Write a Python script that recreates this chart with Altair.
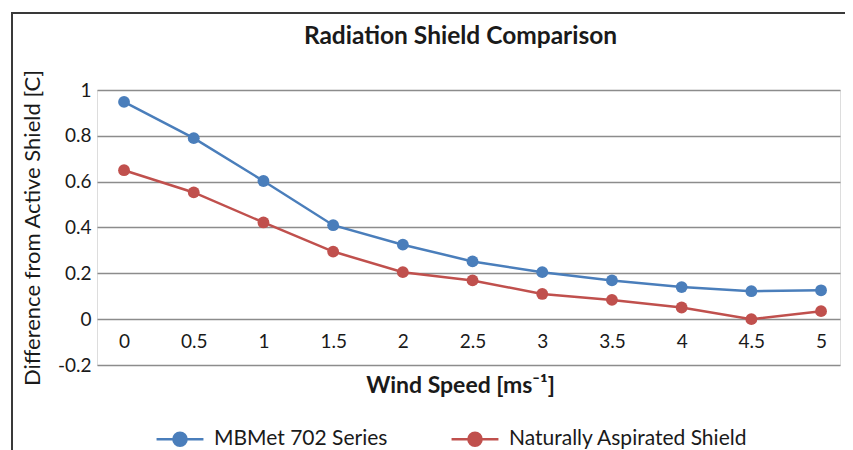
import altair as alt
import pandas as pd

wind = [0, 0.5, 1, 1.5, 2, 2.5, 3, 3.5, 4, 4.5, 5]
mbmet = [0.948, 0.79, 0.603, 0.41, 0.325, 0.252, 0.205, 0.169, 0.14, 0.122, 0.126]
natural = [0.65, 0.553, 0.422, 0.295, 0.205, 0.169, 0.11, 0.084, 0.051, 0.0, 0.035]
series_names = ["MBMet 702 Series", "Naturally Aspirated Shield"]
colors = ["#4A7EBB", "#C0504D"]
y_ticks = [-0.2, 0, 0.2, 0.4, 0.6, 0.8, 1]

rows = []
for w, a, b in zip(wind, mbmet, natural):
    rows.append({"wind": w, "value": a, "series": series_names[0]})
    rows.append({"wind": w, "value": b, "series": series_names[1]})
df = pd.DataFrame(rows)

FONT = "Lato"
TXT = "#1a1a1a"

legend_path = ("M-1,0 L1,0 M0.28,0 A0.28,0.28 0 1,1 -0.28,0 "
               "A0.28,0.28 0 1,1 0.28,0 Z")

x_enc = alt.X(
    "wind:Q",
    scale=alt.Scale(domain=[-0.194, 5.136], nice=False, zero=False),
    axis=alt.Axis(
        values=wind, title="Wind Speed [ms⁻¹]", offset=-46, domain=False,
        ticks=False, grid=False, labelPadding=13, labelFontSize=19,
        labelFont=FONT, labelColor=TXT, titleFont=FONT, titleFontSize=23,
        titleFontWeight="bold", titleColor=TXT, titlePadding=23,
        titleX=363,
        labelExpr="replace(format(datum.value, '~g'), '\u2212', '-')",
    ),
)
y_enc = alt.Y(
    "value:Q",
    scale=alt.Scale(domain=[-0.2, 1], nice=False),
    axis=alt.Axis(
        values=y_ticks, title="Difference from Active Shield [C]",
        domain=False, ticks=False, grid=True, gridColor="#8c8c8c",
        gridWidth=1.4, labelPadding=6, labelFontSize=19, labelFont=FONT,
        labelColor=TXT, titleFont=FONT, titleFontSize=22,
        titleFontWeight="normal", titleColor=TXT, titlePadding=13,
        labelExpr="replace(format(datum.value, '~g'), '\u2212', '-')",
    ),
)
color_scale = alt.Scale(domain=series_names, range=colors)

legend = alt.Legend(
    title=None, orient="none", direction="horizontal",
    legendX=58, legendY=324, symbolType=legend_path, symbolSize=2200,
    symbolStrokeWidth=2.5, labelFont=FONT, labelFontSize=21,
    labelColor=TXT, labelOffset=9, columnPadding=58, labelLimit=400,
)

lines = alt.Chart(df).mark_line(strokeWidth=2.5).encode(
    x=x_enc, y=y_enc,
    stroke=alt.Stroke("series:N", scale=color_scale, sort=series_names,
                      legend=legend),
)
points = alt.Chart(df).mark_point(filled=True, size=140, opacity=1).encode(
    x="wind:Q", y="value:Q",
    fill=alt.Fill("series:N", scale=color_scale, sort=series_names,
                  legend=legend),
)
frame = alt.Chart(df).mark_rect(
    fill=None, stroke="#3a3a3a", strokeWidth=1.3
).encode(
    x=alt.value(-85), x2=alt.value(751), y=alt.value(-77), y2=alt.value(420)
)

chart = alt.layer(frame, lines, points).properties(
    width=743, height=275,
    title=alt.TitleParams(
        "Radiation Shield Comparison", font=FONT, fontSize=24.5,
        fontWeight="bold", color=TXT, offset=-37, dx=-8, frame="group",
    ),
    autosize=alt.AutoSizeParams(type="none"),
    padding={"left": 89, "top": 82, "right": 5, "bottom": 86},
).configure_view(stroke=None).configure(background="white")

chart.save("out.html", embed_options={"renderer": "svg", "actions": False})
